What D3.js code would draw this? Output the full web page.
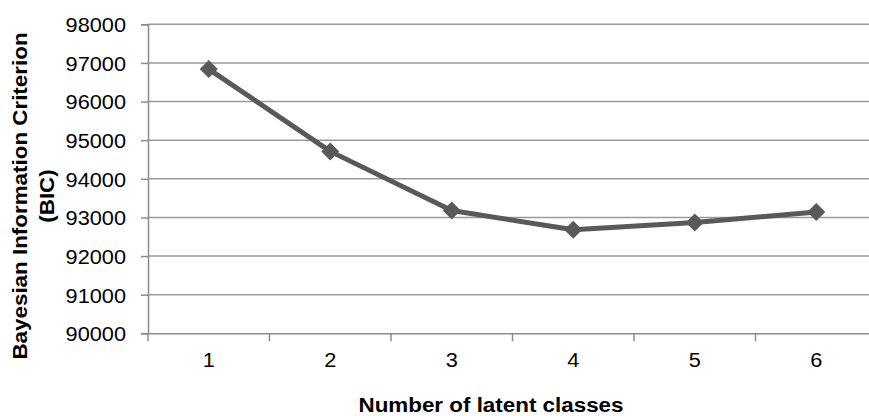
<!DOCTYPE html>
<html><head><meta charset="utf-8">
<script src="https://cdn.jsdelivr.net/npm/d3@7"></script>
<style>html,body{margin:0;padding:0;background:#fff;}svg{display:block;font-family:"Liberation Sans",Arial,sans-serif;}</style>
</head><body><svg id="c" width="869" height="416"></svg>
<script>
const categories = ["1","2","3","4","5","6"];
const bicValues = [96840, 94710, 93180, 92680, 92870, 93140];
const yTicks = [90000,91000,92000,93000,94000,95000,96000,97000,98000];
const xTitle = "Number of latent classes";
const yTitleLines = ["Bayesian Information Criterion","(BIC)"];

(function () {
const svg = d3.select("#c");
const pLeft = 148, pRight = 877, pTop = 24.3, pBottom = 333.3;
const x = d3.scaleBand().domain(categories).range([pLeft, pRight]);
const y = d3.scaleLinear().domain([90000, 98000]).range([pBottom, pTop]);

// gridlines
svg.append("g").selectAll("line").data(yTicks.slice(1)).join("line")
  .attr("x1", pLeft).attr("x2", pRight)
  .attr("y1", d => y(d)).attr("y2", d => y(d))
  .attr("stroke", "#9a9a9a").attr("stroke-width", 1.5);

// y axis
const yAxis = svg.append("g").attr("transform", `translate(${pLeft},0)`)
  .call(d3.axisLeft(y).tickValues(yTicks).tickSize(7).tickPadding(15).tickFormat(d3.format("d")));
yAxis.select(".domain").attr("stroke", "#8c8c8c").attr("stroke-width", 1.5);
yAxis.selectAll(".tick line").attr("stroke", "#8c8c8c").attr("stroke-width", 1.5);
yAxis.selectAll("text").attr("font-size", 20.5).attr("fill", "#000").attr("dy", "0.36em")
  .attr("font-family", "Liberation Sans, Arial, sans-serif")
  .each(function () {
    const t = d3.select(this); const tx = +t.attr("x");
    t.attr("x", 0).attr("transform", `translate(${tx},0) scale(1.06,1)`);
  });

// x axis
const xAxis = svg.append("g").attr("transform", `translate(0,${pBottom})`)
  .call(d3.axisBottom(x).tickSize(0).tickPadding(19));
xAxis.select(".domain").attr("stroke", "#8c8c8c").attr("stroke-width", 1.5);
xAxis.selectAll(".tick line").remove();
xAxis.selectAll("text").attr("font-size", 20.5).attr("fill", "#000")
  .attr("font-family", "Liberation Sans, Arial, sans-serif")
  .attr("transform", "scale(1.06,1)");
// category boundary ticks
const bounds = categories.map(c => x(c)).concat([x(categories[categories.length-1]) + x.bandwidth()]);
svg.append("g").selectAll("line").data(bounds).join("line")
  .attr("x1", d => d).attr("x2", d => d)
  .attr("y1", pBottom).attr("y2", pBottom + 8)
  .attr("stroke", "#8c8c8c").attr("stroke-width", 1.5);

// line
const cx = (c) => x(c) + x.bandwidth() / 2;
const line = d3.line().x((d, i) => cx(categories[i])).y(d => y(d));
svg.append("path").datum(bicValues).attr("d", line)
  .attr("fill", "none").attr("stroke", "#595959").attr("stroke-width", 5)
  .attr("stroke-linejoin", "round");

// diamonds
const r = 9;
svg.append("g").selectAll("path").data(bicValues).join("path")
  .attr("d", (d, i) => {
    const px = cx(categories[i]), py = y(d);
    return `M${px},${py - r}L${px + r},${py}L${px},${py + r}L${px - r},${py}Z`;
  })
  .attr("fill", "#595959");

// axis titles
svg.append("text").attr("transform", `translate(491,412) scale(1.12,1)`).attr("text-anchor", "middle")
  .attr("font-size", 20).attr("font-weight", "bold").attr("fill", "#000").text(xTitle);

const yt = svg.append("text").attr("transform", "translate(27,196) rotate(-90) scale(1.12,1)")
  .attr("text-anchor", "middle").attr("font-size", 20).attr("font-weight", "bold").attr("fill", "#000");
yt.append("tspan").attr("x", 0).attr("y", 0).text(yTitleLines[0]);
yt.append("tspan").attr("x", 0).attr("y", 27).text(yTitleLines[1]);
})();
</script></body></html>
